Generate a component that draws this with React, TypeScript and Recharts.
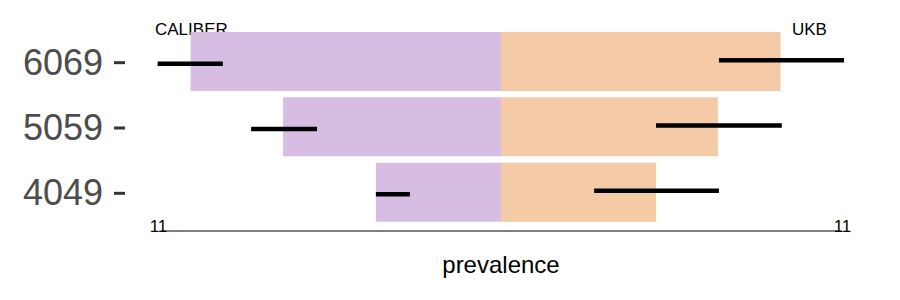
import { Bar, BarChart, ReferenceLine, XAxis, YAxis } from "recharts";

const ageGroups = ["6069", "5059", "4049"];
const caliberPrev = [0.913, 0.641, 0.368];
const ukbPrev = [0.822, 0.638, 0.456];
const caliberLineFrom = [1.01, 0.735, 0.368];
const caliberLineTo = [0.818, 0.541, 0.268];
const ukbLineFrom = [0.641, 0.456, 0.274];
const ukbLineTo = [1.009, 0.826, 0.641];
const xTicks = [-1, 1];
const xTickLabels = ["11", "11"];

const FONT = '"Liberation Sans", Arial, Helvetica, sans-serif';

const data = ageGroups.map((age, i) => ({
  age,
  caliber: -caliberPrev[i],
  ukb: ukbPrev[i],
}));

const lineShape = (dy: number) => (p: any) => (
  <g>
    <line
      x1={p.x1}
      y1={p.y1 + dy}
      x2={p.x2}
      y2={p.y2 + dy}
      stroke="#000"
      strokeWidth={4.5}
    />
  </g>
);

const AgeTick = (props: any) => {
  const { y, payload } = props;
  return (
    <g>
      <text
        x={103}
        y={y}
        dy="0.36em"
        textAnchor="end"
        fontSize={36}
        fontFamily={FONT}
        fill="#4d4d4d"
      >
        {payload.value}
      </text>
      <line x1={114} y1={y + 1} x2={125} y2={y + 1} stroke="#333" strokeWidth={3} />
    </g>
  );
};

const PrevTick = (props: any) => {
  const { x, payload, index } = props;
  return (
    <text
      x={x + (index === 0 ? -2.5 : 1.5)}
      y={231.5}
      textAnchor="middle"
      fontSize={17}
      fontFamily={FONT}
      fill="#000"
    >
      {xTickLabels[index] ?? String(payload.value)}
    </text>
  );
};

export default function App() {
  return (
    <div style={{ position: "absolute", left: 0, top: 0, background: "#fff" }}>
      <BarChart
        width={900}
        height={300}
        data={data}
        layout="vertical"
        stackOffset="sign"
        margin={{ top: 29, right: 59, bottom: 0, left: 0 }}
      >
        <XAxis
          type="number"
          domain={[-1, 1]}
          ticks={xTicks}
          height={69}
          axisLine={{ stroke: "#000", strokeWidth: 1 }}
          tickLine={false}
          tick={<PrevTick />}
          label={{
            value: "prevalence",
            position: "insideBottom",
            offset: 27,
            fontSize: 24,
            fontFamily: FONT,
            fill: "#000",
          }}
        />
        <YAxis
          type="category"
          dataKey="age"
          width={161}
          axisLine={false}
          tickLine={false}
          tick={<AgeTick />}
          padding={{ top: 0, bottom: 6 }}
        />
        <Bar dataKey="caliber" stackId="s" fill="#D7BDE2" barSize={59} isAnimationActive={false} />
        <Bar dataKey="ukb" stackId="s" fill="#F5CBA7" barSize={59} isAnimationActive={false} />
        {ageGroups.map((age, i) => (
          <ReferenceLine
            key={"c" + age}
            ifOverflow="visible"
            segment={[
              { x: -caliberLineFrom[i], y: age },
              { x: -caliberLineTo[i], y: age },
            ]}
            shape={lineShape(2)}
          />
        ))}
        {ageGroups.map((age, i) => (
          <ReferenceLine
            key={"u" + age}
            ifOverflow="visible"
            segment={[
              { x: ukbLineFrom[i], y: age },
              { x: ukbLineTo[i], y: age },
            ]}
            shape={lineShape(-1.5)}
          />
        ))}
        <text x={155} y={35} fontSize={17} fontFamily={FONT} fill="#000">
          CALIBER
        </text>
        <text x={792} y={35} fontSize={17} fontFamily={FONT} fill="#000">
          UKB
        </text>
      </BarChart>
    </div>
  );
}
